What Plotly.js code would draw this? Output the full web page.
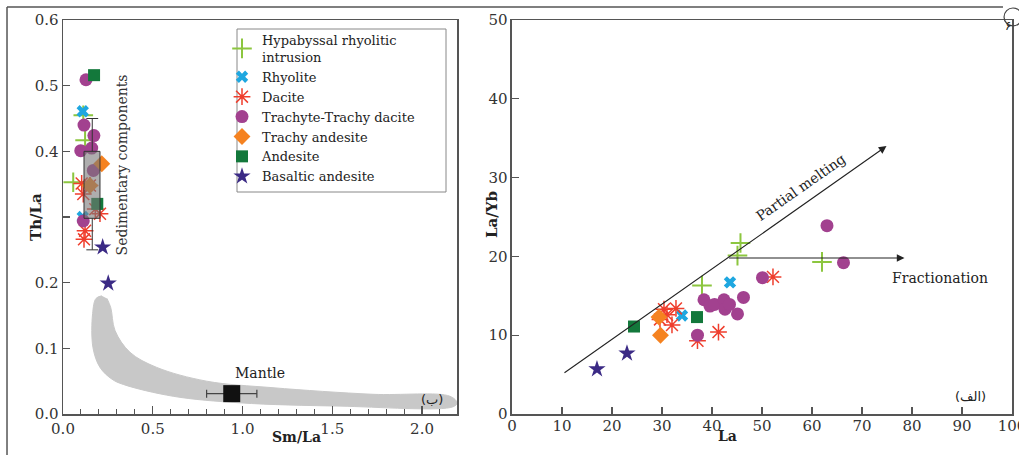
<!DOCTYPE html>
<html><head><meta charset="utf-8">
<script src="https://cdn.plot.ly/plotly-3.0.1.min.js"></script>
<style>html,body{margin:0;padding:0;background:#fff}#chart{width:1019px;height:455px}</style>
</head><body><div id="chart"></div>
<script>
// ---------- DATA ----------
const seriesNames = ["Hypabyssal rhyolitic<br>intrusion", "Rhyolite", "Dacite", "Trachyte-Trachy dacite", "Trachy andesite", "Andesite", "Basaltic andesite"];

// Panel (ب): Sm/La vs Th/La
const hypSmLa = [0.113, 0.123, 0.057];
const hypThLa = [0.455, 0.417, 0.353];
const rhySmLa = [0.110, 0.110];
const rhyThLa = [0.461, 0.300];
const dacSmLa = [0.104, 0.113, 0.150, 0.206, 0.180, 0.123, 0.117];
const dacThLa = [0.351, 0.335, 0.348, 0.305, 0.312, 0.279, 0.266];
const traSmLa = [0.128, 0.117, 0.172, 0.099, 0.169, 0.113, 0.160];
const traThLa = [0.509, 0.440, 0.424, 0.401, 0.371, 0.294, 0.405];
const taSmLa = [0.216, 0.150];
const taThLa = [0.381, 0.348];
const andSmLa = [0.173, 0.191];
const andThLa = [0.516, 0.320];
const basSmLa = [0.221, 0.252];
const basThLa = [0.254, 0.199];

// Panel (الف): La vs La/Yb
const hypLa = [38.0, 45.7, 45.1, 62.0];
const hypLaYb = [16.3, 21.7, 20.1, 19.3];
const rhyLa = [34.0, 43.6];
const rhyLaYb = [12.5, 16.7];
const dacLa = [30.4, 32.8, 29.6, 31.0, 32.0, 37.1, 41.3, 52.2];
const dacLaYb = [13.3, 13.4, 12.0, 12.6, 11.3, 9.3, 10.4, 17.4];
const traLa = [37.1, 38.4, 39.6, 40.5, 42.4, 42.6, 43.5, 45.1, 46.3, 50.1, 63.0, 66.3];
const traLaYb = [10.0, 14.5, 13.7, 13.9, 14.5, 13.3, 13.9, 12.7, 14.8, 17.3, 23.9, 19.2];
const taLa = [29.4, 29.7];
const taLaYb = [12.3, 10.0];
const andLa = [24.4, 37.0];
const andLaYb = [11.1, 12.3];
const basLa = [17.0, 23.0];
const basLaYb = [5.7, 7.7];

// Reference fields
const mantleBandSmLa = [0.216, 0.184, 0.165, 0.167, 0.206, 0.273, 0.336, 0.614, 0.986, 1.543, 2.173, 2.195, 2.156, 1.727, 1.170, 0.800, 0.522, 0.373, 0.290, 0.266, 0.245];
const mantleBandThLa = [0.180, 0.176, 0.153, 0.101, 0.071, 0.053, 0.045, 0.027, 0.017, 0.012, 0.011, 0.017, 0.027, 0.030, 0.040, 0.050, 0.071, 0.094, 0.127, 0.162, 0.176];
const mantleSmLa = [0.94];
const mantleThLa = [0.031];
const mantleErr = [0.14];
const sedBoxSmLa = [0.117, 0.206];
const sedBoxThLa = [0.298, 0.400];
const sedWhiskerSmLa = 0.163;
const sedWhiskerThLa = [0.250, 0.450];
const sedCapHalf = 0.033;

// Trend vectors (tail, head)
const partialMeltingLine = [[10.2, 5.1], [74.9, 34.0]];
const fractionationLine = [[43.1, 19.8], [78.5, 19.8]];

// ---------- STYLE ----------
const serif = "DejaVu Serif";
const markers = [
  {symbol: "cross-thin-open", size: 14, color: "#8cc63f", line: {color: "#8cc63f", width: 2}},
  {symbol: "x", size: 11, color: "#1ea7e0", line: {width: 0}},
  {symbol: "asterisk-open", size: 14, color: "#ef3e2d", line: {color: "#ef3e2d", width: 1.5}},
  {symbol: "circle", size: 13, color: "#a2418f", line: {width: 0}},
  {symbol: "diamond", size: 13, color: "#f58220", line: {width: 0}},
  {symbol: "square", size: 12, color: "#13783b", line: {width: 0}},
  {symbol: "star", size: 13, color: "#3b2a85", line: {width: 0}}
];
const leftData = [[hypSmLa, hypThLa], [rhySmLa, rhyThLa], [dacSmLa, dacThLa], [traSmLa, traThLa], [taSmLa, taThLa], [andSmLa, andThLa], [basSmLa, basThLa]];
const rightData = [[hypLa, hypLaYb], [rhyLa, rhyLaYb], [dacLa, dacLaYb], [traLa, traLaYb], [taLa, taLaYb], [andLa, andLaYb], [basLa, basLaYb]];

const traces = [];
traces.push({
  x: mantleBandSmLa, y: mantleBandThLa, xaxis: "x", yaxis: "y",
  mode: "lines", fill: "toself", fillcolor: "#c8c8c8",
  line: {color: "#c8c8c8", width: 1, shape: "spline", smoothing: 1},
  showlegend: false, hoverinfo: "skip"
});
traces.push({
  x: mantleSmLa, y: mantleThLa, xaxis: "x", yaxis: "y", mode: "markers",
  marker: {symbol: "square", size: 17, color: "#111", line: {width: 0}},
  error_x: {type: "data", array: mantleErr, visible: true, color: "#444", thickness: 1.2, width: 4},
  showlegend: false
});
seriesNames.forEach((name, i) => {
  traces.push({
    x: leftData[i][0], y: leftData[i][1], xaxis: "x", yaxis: "y",
    mode: "markers", name: name, legendgroup: "g" + i, marker: markers[i]
  });
});
seriesNames.forEach((name, i) => {
  traces.push({
    x: rightData[i][0], y: rightData[i][1], xaxis: "x2", yaxis: "y2",
    mode: "markers", name: name, legendgroup: "g" + i, showlegend: false, marker: markers[i]
  });
});

const shapes = [
  {type: "rect", xref: "x", yref: "y", x0: sedBoxSmLa[0], x1: sedBoxSmLa[1], y0: sedBoxThLa[0], y1: sedBoxThLa[1],
   fillcolor: "rgba(120,120,120,0.6)", line: {color: "#333", width: 1}, layer: "above"},
  {type: "line", xref: "x", yref: "y", x0: sedWhiskerSmLa, x1: sedWhiskerSmLa, y0: sedBoxThLa[1], y1: sedWhiskerThLa[1], line: {color: "#333", width: 1}},
  {type: "line", xref: "x", yref: "y", x0: sedWhiskerSmLa, x1: sedWhiskerSmLa, y0: sedWhiskerThLa[0], y1: sedBoxThLa[0], line: {color: "#333", width: 1}},
  {type: "line", xref: "x", yref: "y", x0: sedWhiskerSmLa - sedCapHalf, x1: sedWhiskerSmLa + sedCapHalf, y0: sedWhiskerThLa[1], y1: sedWhiskerThLa[1], line: {color: "#333", width: 1}},
  {type: "line", xref: "x", yref: "y", x0: sedWhiskerSmLa - sedCapHalf, x1: sedWhiskerSmLa + sedCapHalf, y0: sedWhiskerThLa[0], y1: sedWhiskerThLa[0], line: {color: "#333", width: 1}},
  {type: "line", xref: "paper", yref: "paper", x0: -0.059, x1: 0.9905, y0: 1.033, y1: 1.033, line: {color: "#555", width: 1.5}},
  {type: "line", xref: "paper", yref: "paper", x0: -0.059, x1: -0.059, y0: 1.033, y1: -0.11, line: {color: "#555", width: 1.5}},
  {type: "rect", xref: "paper", yref: "paper", x0: (237 - 63) / 949, x1: (446 - 63) / 949, y0: (414 - 192) / 394, y1: (414 - 29) / 394,
   line: {color: "#888", width: 1}, fillcolor: "rgba(0,0,0,0)", layer: "below"},
  {type: "circle", xref: "paper", yref: "paper", x0: 0.9916, x1: 1.0105, y0: 0.985, y1: 1.0305, line: {color: "#444", width: 1.2}, fillcolor: "rgba(0,0,0,0)", layer: "above"}
];

const annotations = [
  {xref: "paper", yref: "paper", x: (25 - 63) / 949, y: (414 - 217) / 394, text: "<b>Th/La</b>", textangle: -90, showarrow: false, font: {family: serif, size: 15, color: "#222"}},
  {xref: "paper", yref: "paper", x: (492 - 63) / 949, y: (414 - 215) / 394, text: "<b>La/Yb</b>", textangle: -90, showarrow: false, font: {family: serif, size: 15, color: "#222"}},
  {xref: "paper", yref: "paper", x: (270 - 63) / 949, y: (414 - 447) / 394, text: "<b>Sm/La</b>", showarrow: false, font: {family: serif, size: 14, color: "#222"}},
  {xref: "paper", yref: "paper", x: (739 - 63) / 949, y: (414 - 446) / 394, text: "<b>La</b>", showarrow: false, font: {family: serif, size: 14, color: "#222"}},
  {xref: "x", yref: "y", x: 1.10, y: 0.063, text: "Mantle", showarrow: false, font: {family: serif, size: 14, color: "#222"}},
  {xref: "x", yref: "y", x: 0.334, y: 0.38, text: "Sedimentary components", textangle: -90, showarrow: false, font: {family: serif, size: 14, color: "#333"}},
  {xref: "x", yref: "y", x: 2.054, y: 0.022, text: "(ب)", showarrow: false, font: {family: "DejaVu Sans", size: 13, color: "#222"}},
  {xref: "x2", yref: "y2", x: 91.6, y: 2.2, text: "(الف)", showarrow: false, font: {family: "DejaVu Sans", size: 13, color: "#222"}},
  {xref: "x2", yref: "y2", x: 57.8, y: 28.8, text: "Partial melting", textangle: -35, showarrow: false, font: {family: serif, size: 14, color: "#222"}},
  {xref: "x2", yref: "y2", x: 85.6, y: 17.3, text: "Fractionation", showarrow: false, font: {family: serif, size: 14, color: "#222"}},
  {xref: "x2", yref: "y2", axref: "x2", ayref: "y2", x: partialMeltingLine[1][0], y: partialMeltingLine[1][1], ax: partialMeltingLine[0][0], ay: partialMeltingLine[0][1],
   text: "", showarrow: true, arrowhead: 2, arrowsize: 1.4, arrowwidth: 1.1, arrowcolor: "#222"},
  {xref: "x2", yref: "y2", axref: "x2", ayref: "y2", x: fractionationLine[1][0], y: fractionationLine[1][1], ax: fractionationLine[0][0], ay: fractionationLine[0][1],
   text: "", showarrow: true, arrowhead: 2, arrowsize: 1.4, arrowwidth: 1.1, arrowcolor: "#222"},
  {xref: "paper", yref: "paper", x: 1.0015, y: 1.008, text: "۶", showarrow: false, font: {family: "DejaVu Sans", size: 12, color: "#222"}}
];

const axisCommon = {
  showline: true, mirror: true, linecolor: "#555", linewidth: 1.5, showgrid: false, zeroline: false,
  ticks: "inside", tickcolor: "#555", tickwidth: 1.2, ticklabeloverflow: "allow",
  tickfont: {family: serif, size: 15, color: "#333"}
};

const layout = {
  width: 1019, height: 455,
  margin: {l: 63, r: 7, t: 20, b: 41},
  paper_bgcolor: "#fff", plot_bgcolor: "#fff",
  font: {family: serif},
  showlegend: true,
  legend: {x: (222 - 63) / 949, y: (414 - 25) / 394, xanchor: "left", yanchor: "top",
           bgcolor: "rgba(0,0,0,0)", borderwidth: 0, font: {family: serif, size: 13, color: "#222"}, tracegroupgap: 0},
  xaxis: Object.assign({}, axisCommon, {
    domain: [0, 0.4152], range: [0, 2.195], anchor: "y",
    tickvals: [0, 0.5, 1, 1.5, 2], ticktext: ["0.0", "0.5", "1.0", "1.5", "2.0"], ticklen: 8,
    minor: {dtick: 0.1, tick0: 0, ticks: "inside", ticklen: 5, tickcolor: "#555", tickwidth: 1}
  }),
  yaxis: Object.assign({}, axisCommon, {
    domain: [0, 1], range: [0, 0.6], anchor: "x",
    tickvals: [0, 0.1, 0.2, 0.3, 0.4, 0.5, 0.6], ticktext: ["0.0", "0.1", "0.2", "", "0.4", "0.5", "0.6"], ticklen: 7
  }),
  xaxis2: Object.assign({}, axisCommon, {
    domain: [0.4731, 1], range: [0, 100], anchor: "y2", dtick: 10, tick0: 0, ticklen: 7, ticklabelstandoff: -3
  }),
  yaxis2: Object.assign({}, axisCommon, {
    domain: [0, 1], range: [0, 50], anchor: "x2", dtick: 10, tick0: 0, ticklen: 7
  }),
  shapes: shapes,
  annotations: annotations
};

Plotly.newPlot("chart", traces, layout, {displayModeBar: false, staticPlot: true});
</script>
</body></html>
